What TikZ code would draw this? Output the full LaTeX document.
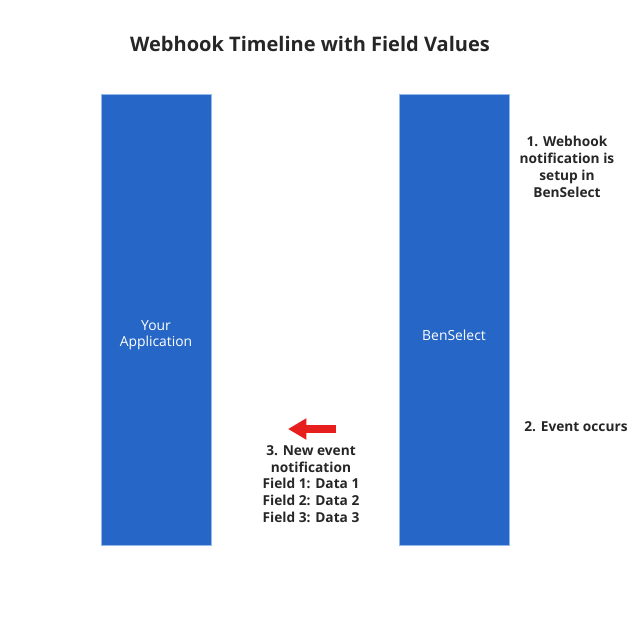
\documentclass[tikz,border=0pt]{standalone}
\usepackage{fontspec}
\setmainfont{Open Sans}
\usepackage{tikz}
\usetikzlibrary{arrows.meta,positioning}
\definecolor{wbblue}{RGB}{37,102,198}
\definecolor{wbedge}{RGB}{150,185,235}
\definecolor{wbtext}{RGB}{38,38,38}
\definecolor{wbred}{RGB}{230,30,30}
\tikzstyle{lane} = [draw=wbedge, line width=0.4pt, fill=wbblue, minimum width=2.2cm, minimum height=9.02cm, inner sep=0pt]
\tikzstyle{lanetext} = [text=white, font=\fontsize{7.9}{9.2}\selectfont, align=center]
\tikzstyle{steptext} = [text=wbtext, font=\bfseries\fontsize{7.8}{9.6}\selectfont, align=center, inner sep=0pt]
\tikzstyle{redarrow} = [wbred, line width=5pt, -{Triangle[length=10.5pt, width=11.5pt]}]

\begin{document}
\begin{tikzpicture}[x=0.02cm, y=-0.02cm]
\useasboundingbox (0,0) rectangle (640,640);
% Title
\node[text=wbtext, font=\bfseries\fontsize{11.4}{13}\selectfont] (title) at (310,44) {Webhook Timeline with Field Values};
% Lanes
\node[lane] (app) at (156,319.5) {};
\node[lane] (ben) at (454,319.5) {};
\node[lanetext] (applabel) at (156,335) {Your\\Application};
\node[lanetext] (benlabel) at (454,335) {BenSelect};
% Steps
\node[steptext] (setup) at (567,167) {1. Webhook\\notification is\\setup in\\BenSelect};
\node[steptext] (event) at (576,427) {2. Event occurs};
\node[steptext] (notify) at (311,484) {3. New event\\notification\\Field 1: Data 1\\Field 2: Data 2\\Field 3: Data 3};
% Arrow
\coordinate (arrowstart) at (336,429);
\coordinate (arrowend) at (288,429);
\draw[redarrow] (arrowstart) -- (arrowend);
\end{tikzpicture}
\end{document}
